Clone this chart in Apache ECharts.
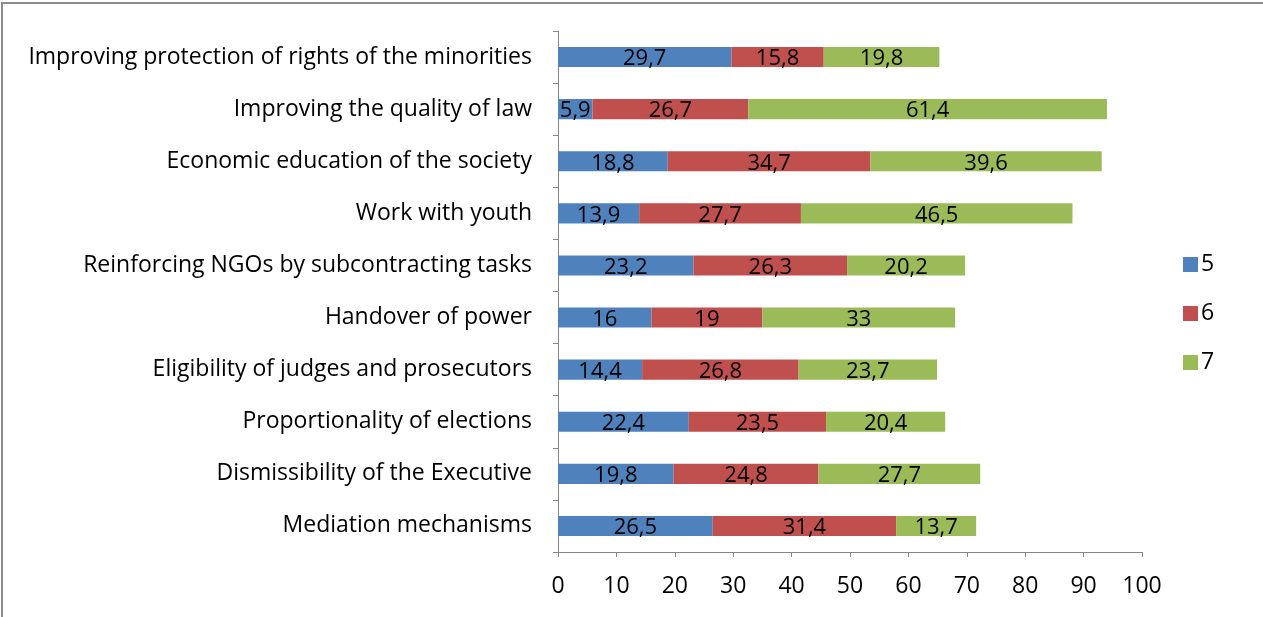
<!DOCTYPE html>
<html>
<head>
<meta charset="utf-8">
<script src="https://cdn.jsdelivr.net/npm/echarts@6/dist/echarts.min.js"></script>
<style>
    html, body { margin: 0; padding: 0; background: #fff; }
    #chart-wrapper {
        position: absolute; left: 1px; top: 2px; width: 1260px; height: 613px;
        border-left: 2px solid #8c8c8c; border-top: 2px solid #8c8c8c;
        border-right: 2px solid #c4c4c4; border-bottom: 2px solid #c4c4c4;
        background: #fff;
    }
</style>
</head>
<body>
<div id="chart-wrapper"></div>
<script>
var categories = [
    "Mediation mechanisms",
    "Dismissibility of the Executive",
    "Proportionality of elections",
    "Eligibility of judges and prosecutors",
    "Handover of power",
    "Reinforcing NGOs by subcontracting tasks",
    "Work with youth",
    "Economic education of the society",
    "Improving the quality of law",
    "Improving protection of rights of the minorities"
];
var seriesNames = ["5", "6", "7"];
var values5 = [26.5, 19.8, 22.4, 14.4, 16, 23.2, 13.9, 18.8, 5.9, 29.7];
var values6 = [31.4, 24.8, 23.5, 26.8, 19, 26.3, 27.7, 34.7, 26.7, 15.8];
var values7 = [13.7, 27.7, 20.4, 23.7, 33, 20.2, 46.5, 39.6, 61.4, 19.8];
var xTicks = [0, 10, 20, 30, 40, 50, 60, 70, 80, 90, 100];

var colors = ["#4f81bd", "#c0504d", "#9bbb59"];
var fontName = "Open Sans";

var chart = echarts.init(document.getElementById("chart-wrapper"));

function makeSeries(name, data, color) {
    return {
        name: name,
        type: "bar",
        stack: "total",
        data: data,
        barWidth: "38.5%",
        itemStyle: { color: color },
        label: {
            show: true,
            position: "inside",
            color: "#000",
            fontSize: 22,
            fontFamily: fontName,
            offset: [0, 2],
            formatter: function (p) {
                return String(p.value).replace(".", ",");
            }
        }
    };
}

var option = {
    animation: false,
    textStyle: { fontFamily: fontName },
    legend: {
        orient: "vertical",
        left: 1175,
        top: 244,
        itemWidth: 15,
        itemHeight: 15,
        itemGap: 26,
        icon: "rect",
        data: seriesNames,
        textStyle: { fontSize: 23, color: "#000", fontFamily: fontName, padding: [3, 0, 0, -2] }
    },
    grid: {
        left: 555,
        right: 121,
        top: 27,
        bottom: 65,
        containLabel: false
    },
    xAxis: {
        type: "value",
        min: xTicks[0],
        max: xTicks[xTicks.length - 1],
        interval: 10,
        axisLine: { show: true, lineStyle: { color: "#868686" } },
        axisTick: { show: true, length: 5, lineStyle: { color: "#868686" } },
        splitLine: { show: false },
        axisLabel: { fontSize: 23, color: "#000", margin: 23 }
    },
    yAxis: {
        type: "category",
        data: categories,
        axisLine: { lineStyle: { color: "#868686" } },
        axisTick: { show: true, length: 5, lineStyle: { color: "#868686" } },
        axisLabel: { fontSize: 23, color: "#000", margin: 26 }
    },
    series: [
        makeSeries(seriesNames[0], values5, colors[0]),
        makeSeries(seriesNames[1], values6, colors[1]),
        makeSeries(seriesNames[2], values7, colors[2])
    ]
};

chart.setOption(option);
</script>
</body>
</html>
